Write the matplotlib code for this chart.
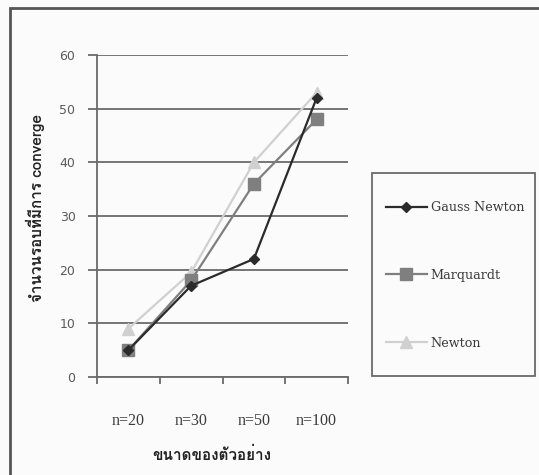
import matplotlib
matplotlib.use('Agg')
import matplotlib.pyplot as plt
from matplotlib import font_manager
from matplotlib.ft2font import FT2Font
from matplotlib.patches import Rectangle

# ข้อมูล
categories = ['n=20', 'n=30', 'n=50', 'n=100']
gauss_newton = [5, 17, 22, 52]
marquardt = [5, 18, 36, 48]
newton = [9, 19.5, 40, 53]
series_names = ['Gauss Newton', 'Marquardt', 'Newton']
y_ticks = [0, 10, 20, 30, 40, 50, 60]
x_title = 'ขนาดของตัวอย่าง'
y_title = 'จำนวนรอบที่มีการ converge'


# หาฟอนต์ที่มีอักษรไทย
def thai_font():
    for f in font_manager.fontManager.ttflist:
        try:
            ft = FT2Font(f.fname)
            if ft.get_char_index(ord('ก')):
                return f.name
        except Exception:
            pass
    return 'DejaVu Sans'


th = thai_font()
txt = '#3a3a3a'
grid = '#6a6a6a'
W, H = 539, 475

fig = plt.figure(figsize=(W / 100, H / 100), dpi=100)
fig.patch.set_facecolor('#fbfbfb')
ax = fig.add_axes([97 / W, 1 - 377 / H, 251 / W, 322 / H])
ax.set_facecolor('#fbfbfb')

x = range(len(categories))
ax.plot(x, gauss_newton, color='#2b2b2b', lw=1.6, marker='D', ms=5.5, label=series_names[0], zorder=5)
ax.plot(x, marquardt, color='#7f7f7f', lw=1.6, marker='s', ms=8, label=series_names[1], zorder=4)
ax.plot(x, newton, color='#d0d0d0', lw=1.6, marker='^', ms=8, label=series_names[2], zorder=3)

ax.set_ylim(0, 60)
ax.set_yticks(y_ticks)
ax.yaxis.grid(True, color=grid, lw=1.3)
ax.set_axisbelow(True)
ax.set_xlim(-0.5, 3.5)
ax.set_xticks([-0.5, 0.5, 1.5, 2.5, 3.5])
ax.set_xticklabels([])
ax.set_xticks(list(x), minor=True)
ax.set_xticklabels(categories, minor=True, family=['Liberation Serif', th], fontsize=11.5, color=txt)
ax.tick_params(axis='x', which='minor', length=0, pad=26)
ax.tick_params(axis='x', which='major', length=5, color=grid, width=1.3)
ax.tick_params(axis='y', length=6.5, color=grid, width=1.3, labelsize=9, labelcolor='#5a5a5a', pad=9)
for s in ['top', 'right']:
    ax.spines[s].set_visible(False)
for s in ['left', 'bottom']:
    ax.spines[s].set_color(grid)
    ax.spines[s].set_linewidth(1.3)

fig.text(212 / W, 1 - 455 / H, x_title, family=[th, 'DejaVu Sans'],
         fontsize=11, weight='bold', color='#222222', ha='center', va='center')
fig.text(35 / W, 1 - 208 / H, y_title, family=[th, 'DejaVu Serif'], rotation=90,
         fontsize=11, weight='bold', color='#222222', ha='center', va='center')

# กรอบคำอธิบายสัญลักษณ์
fig.patches.append(Rectangle((372 / W, 1 - 376 / H), 163 / W, 203 / H, transform=fig.transFigure,
                             fill=True, facecolor='#fbfbfb', edgecolor=grid, lw=1.3))
leg = fig.legend(loc='upper left', bbox_to_anchor=(386 / W, 1 - 201 / H), frameon=False,
                 labelspacing=4.3, borderpad=0, handlelength=3.2, handletextpad=0.3,
                 borderaxespad=0, prop={'family': 'DejaVu Serif', 'size': 9.2})
for t in leg.get_texts():
    t.set_color(txt)

# กรอบรอบแผนภูมิ
fig.patches.append(Rectangle((10 / W, -0.1), 1.2, 1 - 8 / H + 0.1, transform=fig.transFigure,
                             fill=False, edgecolor='#555555', lw=2))

fig.savefig('out.png', dpi=100, facecolor=fig.get_facecolor())
